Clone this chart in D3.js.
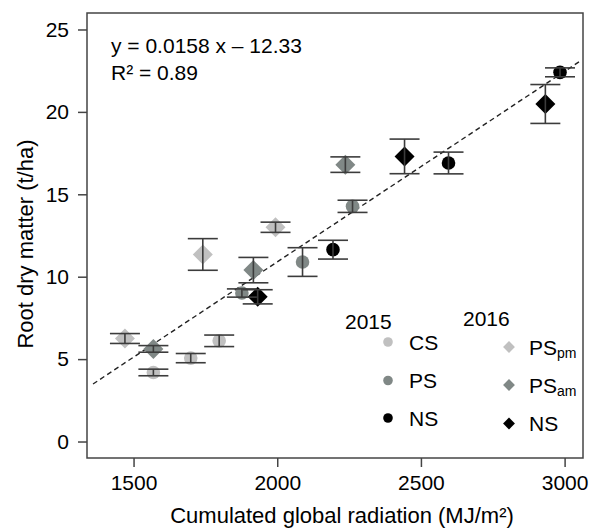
<!DOCTYPE html>
<html>
<head>
<meta charset="utf-8">
<script src="https://cdn.jsdelivr.net/npm/d3@7"></script>
<style>
  body { margin: 0; background: #fff; }
  text { font-family: "Liberation Sans", Arial, sans-serif; fill: #000; }
</style>
</head>
<body>
<div id="scatter"></div>
<script>
// data
var csX = [1569, 1699, 1798];
var csY = [4.19, 5.06, 6.11];
var csErr = [0.2, 0.28, 0.35];

var psX = [1877, 2088, 2262];
var psY = [9.01, 10.89, 14.27];
var psErr = [0.25, 0.87, 0.37];

var ns15X = [2194, 2596, 2984];
var ns15Y = [11.64, 16.9, 22.4];
var ns15Err = [0.57, 0.66, 0.27];

var pspmX = [1470, 1741, 1994];
var pspmY = [6.25, 11.35, 13.0];
var pspmErr = [0.3, 0.96, 0.31];

var psamX = [1569, 1917, 2237];
var psamY = [5.62, 10.4, 16.8];
var psamErr = [0.2, 0.77, 0.47];

var ns16X = [1932, 2443, 2933];
var ns16Y = [8.78, 17.3, 20.48];
var ns16Err = [0.43, 1.05, 1.18];

var fitX = [1359, 3053];
var fitY = [3.49, 23.07];

var xTicks = [1500, 2000, 2500, 3000];
var yTicks = [0, 5, 10, 15, 20, 25];

// create the chart area
var svgwidth = 592;
var svgheight = 528;

var margin = { top: 13, right: 9, bottom: 70, left: 87 };

var width = svgwidth - margin.left - margin.right;
var height = svgheight - margin.top - margin.bottom;

var svg = d3.select("#scatter").append("svg")
  .attr("width", svgwidth)
  .attr("height", svgheight);

var chartgroup = svg.append("g")
  .attr("transform", `translate(${margin.left}, ${margin.top})`);

var xscale = d3.scaleLinear().domain([1338, 3064]).range([0, width]);
var yscale = d3.scaleLinear().domain([-1, 26]).range([height, 0]);

var light = "#c0c0c0";
var mid = "#808886";
var barcolor = "#3c3c3c";

var groups = [
  { xs: csX, ys: csY, err: csErr, shape: "circle", fill: light },
  { xs: psX, ys: psY, err: psErr, shape: "circle", fill: mid },
  { xs: ns15X, ys: ns15Y, err: ns15Err, shape: "circle", fill: "#000" },
  { xs: pspmX, ys: pspmY, err: pspmErr, shape: "diamond", fill: light },
  { xs: psamX, ys: psamY, err: psamErr, shape: "diamond", fill: mid },
  { xs: ns16X, ys: ns16Y, err: ns16Err, shape: "diamond", fill: "#000" }
];

// axes
var xaxis = d3.axisBottom(xscale).tickValues(xTicks).tickFormat(d3.format("d")).tickSize(9).tickPadding(8);
var yaxis = d3.axisLeft(yscale).tickValues(yTicks).tickFormat(d3.format("d")).tickSize(9).tickPadding(9);

var xg = chartgroup.append("g")
  .attr("transform", `translate(0, ${height})`)
  .call(xaxis);
var yg = chartgroup.append("g").call(yaxis);

[xg, yg].forEach(function(g) {
  g.select(".domain").remove();
  g.selectAll(".tick line").attr("stroke", "#444").attr("stroke-width", 1.5);
  g.selectAll(".tick text")
    .attr("font-size", "21px")
    .attr("font-family", "Liberation Sans, Arial, sans-serif")
    .attr("fill", "#000");
});

// frame
chartgroup.append("rect")
  .attr("width", width)
  .attr("height", height)
  .attr("fill", "none")
  .attr("stroke", "#444")
  .attr("stroke-width", 1.5);

// regression line
chartgroup.append("line")
  .attr("x1", xscale(fitX[0]))
  .attr("y1", yscale(fitY[0]))
  .attr("x2", xscale(fitX[1]))
  .attr("y2", yscale(fitY[1]))
  .attr("stroke", "#222")
  .attr("stroke-width", 1.4)
  .attr("stroke-dasharray", "5,3.5");

var diamond = d3.symbol().type(d3.symbolSquare).size(200);

// markers
groups.forEach(function(gr) {
  var pts = gr.xs.map(function(x, i) { return { x: x, y: gr.ys[i], e: gr.err[i] }; });
  var sel = chartgroup.append("g").selectAll("path").data(pts).enter();
  if (gr.shape === "circle") {
    sel.append("circle")
      .attr("cx", d => xscale(d.x))
      .attr("cy", d => yscale(d.y))
      .attr("r", 6.8)
      .attr("fill", gr.fill);
  } else {
    sel.append("path")
      .attr("d", diamond)
      .attr("transform", d => `translate(${xscale(d.x)}, ${yscale(d.y)}) rotate(45)`)
      .attr("fill", gr.fill);
  }
});

// error bars on top
groups.forEach(function(gr) {
  var pts = gr.xs.map(function(x, i) { return { x: x, y: gr.ys[i], e: gr.err[i] }; });
  var eg = chartgroup.append("g")
    .attr("stroke", barcolor)
    .attr("stroke-width", 1.6);
  pts.forEach(function(d) {
    var cx = xscale(d.x);
    eg.append("line")
      .attr("x1", cx).attr("x2", cx)
      .attr("y1", yscale(d.y - d.e)).attr("y2", yscale(d.y + d.e));
    [d.y - d.e, d.y + d.e].forEach(function(v) {
      eg.append("line")
        .attr("x1", cx - 15).attr("x2", cx + 15)
        .attr("y1", yscale(v)).attr("y2", yscale(v));
    });
  });
});

// equation
chartgroup.append("text")
  .attr("x", 24)
  .attr("y", 40)
  .attr("font-size", "21px")
  .text("y = 0.0158 x – 12.33");
chartgroup.append("text")
  .attr("x", 24)
  .attr("y", 67)
  .attr("font-size", "21px")
  .text("R² = 0.89");

// legend
var legend = svg.append("g");
legend.append("text").attr("x", 345).attr("y", 329).attr("font-size", "21px").text("2015");
legend.append("text").attr("x", 463).attr("y", 326).attr("font-size", "21px").text("2016");

var leg15 = [
  { label: "CS", fill: light, y: 342 },
  { label: "PS", fill: mid, y: 380.5 },
  { label: "NS", fill: "#000", y: 418 }
];
leg15.forEach(function(d) {
  legend.append("circle").attr("cx", 388).attr("cy", d.y).attr("r", 4.8).attr("fill", d.fill);
  legend.append("text").attr("x", 409).attr("y", d.y + 7.5).attr("font-size", "21px").text(d.label);
});

var smallDiamond = d3.symbol().type(d3.symbolSquare).size(70);
var leg16 = [
  { label: "PS", sub: "pm", fill: light, y: 347 },
  { label: "PS", sub: "am", fill: mid, y: 385 },
  { label: "NS", sub: "", fill: "#000", y: 423.5 }
];
leg16.forEach(function(d) {
  legend.append("path")
    .attr("d", smallDiamond)
    .attr("transform", `translate(509, ${d.y}) rotate(45)`)
    .attr("fill", d.fill);
  var t = legend.append("text").attr("x", 529).attr("y", d.y + 7.5).attr("font-size", "21px");
  t.append("tspan").text(d.label);
  if (d.sub) {
    t.append("tspan").attr("font-size", "14px").attr("dy", 3).text(d.sub);
  }
});

// axis labels
svg.append("text")
  .attr("transform", "rotate(-90)")
  .attr("x", -244)
  .attr("y", 33)
  .attr("font-size", "22px")
  .style("text-anchor", "middle")
  .text("Root dry matter (t/ha)");

svg.append("text")
  .attr("x", 342)
  .attr("y", 523)
  .attr("font-size", "22px")
  .style("text-anchor", "middle")
  .text("Cumulated global radiation (MJ/m²)");
</script>
</body>
</html>
